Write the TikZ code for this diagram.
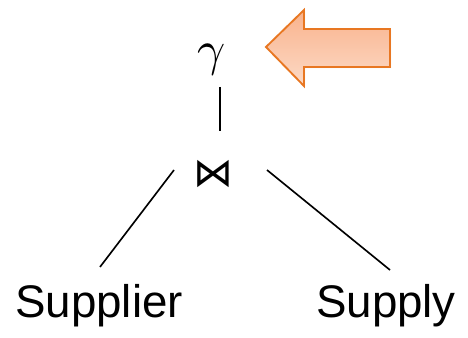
\documentclass[tikz,border=0pt]{standalone}
\usepackage{unicode-math}
\setmainfont{Liberation Sans}
\setmathfont{Latin Modern Math}
\newfontfamily\opfont{DejaVu Sans}
\usetikzlibrary{shadows}

\begin{document}
\begin{tikzpicture}[x=0.03cm,y=-0.03cm]
            \useasboundingbox (0,0) rectangle (468,338);
            \tikzset{
                edge/.style={line width=1.4pt},
                pointer/.style={draw={rgb,255:red,232;green,119;blue,34},line width=1.6pt,
                    top color={rgb,255:red,249;green,178;blue,140},bottom color={rgb,255:red,252;green,218;blue,198},
                    drop shadow={opacity=0.2,shadow xshift=1pt,shadow yshift=-1pt}}
            }
            % operators
            \node (gamma) at (212,60) {\fontsize{42}{46}\selectfont$\gamma$};
            \node (join) at (213,174) {\fontsize{34}{40}\selectfont\opfont ⋈};
            % relations
            \node[anchor=base] (supplier) at (99,317) {\fontsize{39}{46}\selectfont Supplier};
            \node[anchor=base] (supply) at (386,317) {\fontsize{39}{46}\selectfont Supply};
            % tree edges
            \coordinate (g1) at (220,87);
            \coordinate (j0) at (220,131);
            \coordinate (j1) at (174,170);
            \coordinate (s1) at (100,267);
            \coordinate (j2) at (267,170);
            \coordinate (s2) at (390,270);
            \draw[edge] (g1)--(j0);
            \draw[edge] (j1)--(s1);
            \draw[edge] (j2)--(s2);
            % arrow pointing at gamma
            \path[pointer] (266,47)--(304,10)--(304,29)--(390,29)--(390,67)--(304,67)--(304,86)--cycle;
\end{tikzpicture}
\end{document}
